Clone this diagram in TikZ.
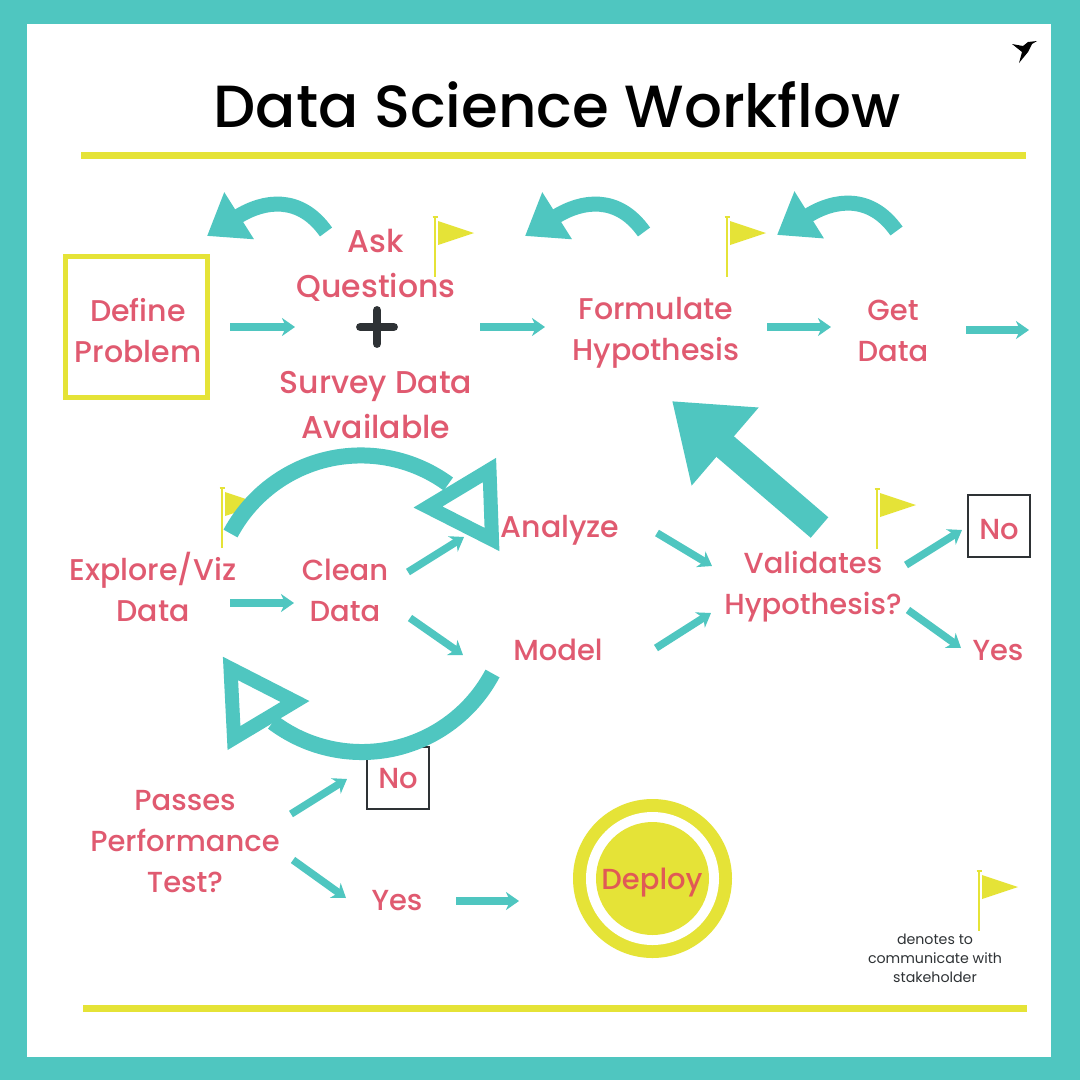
\documentclass[tikz,border=0pt]{standalone}
\usepackage{fontspec}
\setmainfont{Poppins Medium}
\newfontfamily\notefont{Poppins}
\usetikzlibrary{arrows.meta}
\definecolor{tealc}{HTML}{4FC6C0}
\definecolor{rosec}{HTML}{E05A70}
\definecolor{redc}{HTML}{E05A55}
\definecolor{yellowc}{HTML}{E5E337}
\definecolor{darkc}{HTML}{2E3235}
\tikzset{
	label/.style={text=rosec,align=center,inner sep=0pt,font=\fontsize{29}{41}\selectfont},
	labelbig/.style={label,font=\fontsize{30}{41}\selectfont},
	labelwide/.style={label,font=\fontsize{31.5}{45}\selectfont},
	definebox/.style={draw=yellowc,line width=5pt,minimum width=142pt,minimum height=141pt},
	nobox/.style={label,draw=darkc,line width=2pt,minimum size=62pt},
	flow/.style={tealc,line width=7.5pt,-{Stealth[length=13pt,width=18pt,inset=4pt]}},
	bigflow/.style={tealc,line width=27pt,-{Triangle[length=70pt,width=98pt]}},
	backflow/.style={tealc,line width=15pt,-{Triangle[length=38pt,width=53pt]}},
	loopflow/.style={tealc,line width=16pt},
	loophead/.style={draw=tealc,fill=white,line width=14pt,miter limit=10},
	rule/.style={yellowc,line width=7pt},
	plusbar/.style={darkc,line width=8.5pt,line cap=round},
	flag/.pic={
		\draw[yellowc,line width=2pt] (0,0) -- (0,60);
		\draw[yellowc,line width=2pt] (-2.5,0) -- (2.5,0);
		\fill[yellowc] (3,4) -- (39,16) -- (3,28) -- cycle;
	}
}
\begin{document}
\begin{tikzpicture}[x=1pt,y=-1pt]
	\useasboundingbox (0,0) rectangle (1080,1080);
	\fill[tealc] (0,0) rectangle (1080,1080);
	\fill[white] (27,24) rectangle (1051,1057);
	% bird
	\fill[black] (1012,44) -- (1023,46) -- (1028,42) -- (1037,41) -- (1032,44) -- (1028,52) -- (1019,63) -- (1022,52) -- cycle;
	% title and rules
	\node[inner sep=0pt,font=\fontsize{59.5}{59.5}\selectfont] (title) at (557,105) {Data Science Workflow};
	\draw[rule] (81,155) -- (1026,155);
	\draw[rule] (83,1008) -- (1027,1008);
	% flags
	\pic at (435,217) {flag};
	\pic at (727,217) {flag};
	\pic at (222,488) {flag};
	\pic at (877,489) {flag};
	\pic at (979,871) {flag};
	% top row
	\node[definebox] (define) at (136.5,327) {};
	\node[labelbig] (definetext) at (138,331) {Define\\Problem};
	\node[labelwide] (ask) at (376,265) {Ask\\Questions};
	\node[minimum size=33pt,inner sep=0pt] (plus) at (377,327) {};
	\draw[plusbar] (plus.west) -- (plus.east);
	\draw[plusbar] (plus.north) -- (plus.south);
	\node[labelwide] (survey) at (376,405) {Survey Data\\Available};
	\node[labelbig] (formulate) at (656,333) {Formulate\\Hypothesis};
	\node[label] (getdata) at (893,331) {Get\\Data};
	\coordinate (next) at (1029,330);
	% middle row
	\node[labelbig] (explore) at (153,587) {Explore/Viz\\Data};
	\node[label] (clean) at (345,590) {Clean\\Data};
	\node[labelbig] (analyze) at (560,530) {Analyze};
	\node[label] (model) at (558,650) {Model};
	\node[label] (validates) at (813,587) {Validates\\Hypothesis?};
	\node[nobox] (noa) at (999,526) {\raisebox{-13pt}[0pt][0pt]{No}};
	\node[label] (yesa) at (998,651) {Yes};
	% bottom row
	\node[label] (passes) at (185,842) {Passes\\Performance\\Test?};
	\node[nobox] (nob) at (398,778) {\raisebox{-10.5pt}[0pt][0pt]{No}};
	\node[label] (yesb) at (397,901) {Yes};
	\fill[yellowc] (652.5,878.5) circle [radius=79.5];
	\fill[white] (652.5,878.5) circle [radius=66.5];
	\fill[yellowc] (652.5,878.5) circle [radius=56.5];
	\node[label,text=redc] (deploy) at (652,883) {Deploy};
	\node[inner sep=0pt,align=center,text=darkc,font=\notefont\fontsize{14.2}{19}\selectfont] (denotes) at (935,958) {denotes to\\communicate with\\stakeholder};
	% small arrows
	\draw[flow] ([shift={(93.5,0)}]define.center) -- ([shift={(-82,0)}]plus.center);
	\draw[flow] ([shift={(103,0)}]plus.center) -- ([shift={(-111,-6)}]formulate.center);
	\draw[flow] ([shift={(111,-6)}]formulate.center) -- ([shift={(-62,-4)}]getdata.center);
	\draw[flow] ([shift={(73,-1)}]getdata.center) -- (next);
	\draw[flow] ([shift={(77,16)}]explore.center) -- ([shift={(-51,13)}]clean.center);
	\draw[flow] ([shift={(63,-18)}]clean.center) -- ([shift={(-96,7)}]analyze.center);
	\draw[flow] ([shift={(65,28)}]clean.center) -- ([shift={(-95,5)}]model.center);
	\draw[flow] ([shift={(97,3)}]analyze.center) -- ([shift={(-101,-21)}]validates.center);
	\draw[flow] ([shift={(98,-2)}]model.center) -- ([shift={(-102,26)}]validates.center);
	\draw[flow] ([shift={(93,-22)}]validates.center) -- ([shift={(-37,4)}]noa.center);
	\draw[flow] ([shift={(95,23)}]validates.center) -- ([shift={(-37,-3)}]yesa.center);
	\draw[flow] ([shift={(106,-28)}]passes.center) -- ([shift={(-51,1)}]nob.center);
	\draw[flow] ([shift={(108,18)}]passes.center) -- ([shift={(-51,-3)}]yesb.center);
	\draw[flow] ([shift={(59,0)}]yesb.center) -- ([shift={(-133,18)}]deploy.center);
	\draw[bigflow] ([shift={(6.5,-59.5)}]validates.center) -- ([shift={(16,68)}]formulate.center);
	% curved arrows
	\coordinate (backa) at (207,236);
	\coordinate (backb) at (525,236);
	\coordinate (backc) at (777,235);
	\draw[backflow] ([shift={(-50,-33)}]ask.center) .. controls (300,195) and (264,200) .. (backa);
	\draw[backflow] ([shift={(-12,-101)}]formulate.center) .. controls (618,195) and (582,200) .. (backb);
	\draw[backflow] ([shift={(3.5,-100)}]getdata.center) .. controls (870.5,194) and (834.5,199) .. (backc);
	% loops
	\draw[loopflow] ([shift={(77.5,-53.5)}]explore.center) arc [start angle=208.2,end angle=306.2,radius=148];
	\draw[loophead] (489.5,470) -- (428,507) -- (492,539.5) -- cycle;
	\draw[loopflow] ([shift={(-65.5,23.5)}]model.center) arc [start angle=28,end angle=127,radius=148];
	\draw[loophead] (230.5,668.5) -- (295,701.5) -- (234,738) -- cycle;
\end{tikzpicture}
\end{document}
